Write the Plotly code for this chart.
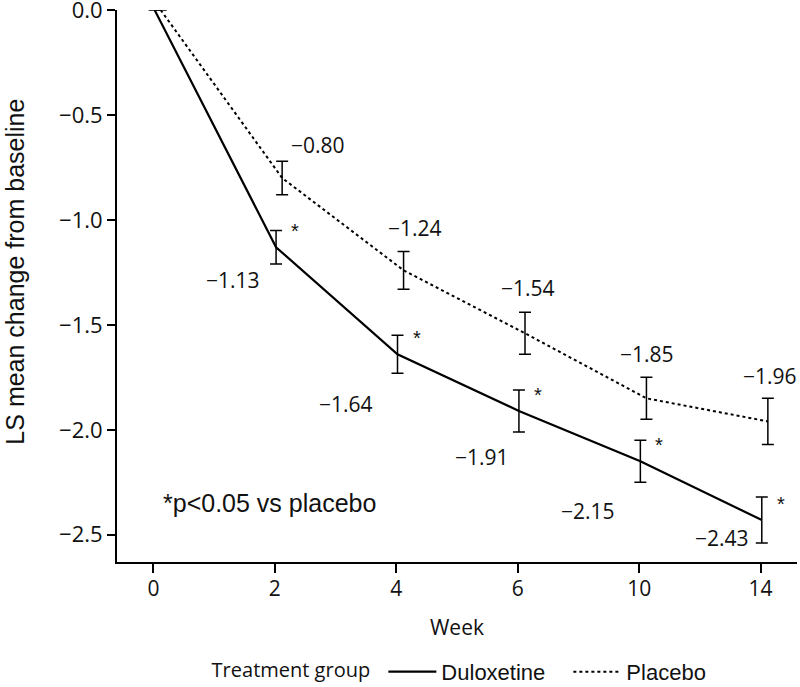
import plotly.graph_objects as go

weeks = ["0", "2", "4", "6", "10", "14"]
dulox_mean = [0.0, -1.13, -1.64, -1.91, -2.15, -2.43]
dulox_err = [0.0, 0.08, 0.09, 0.10, 0.10, 0.11]
placebo_mean = [0.0, -0.80, -1.24, -1.54, -1.85, -1.96]
placebo_err = [0.0, 0.08, 0.09, 0.10, 0.10, 0.11]
significant = [False, True, True, True, True, True]

idx = list(range(len(weeks)))
dulox_x = [i + 0.01 for i in idx]
placebo_x = [i + 0.06 for i in idx]

fig = go.Figure()
fig.add_trace(go.Scatter(
    x=dulox_x, y=dulox_mean, mode="lines", name="Duloxetine",
    line=dict(color="black", width=2.2),
    error_y=dict(type="data", array=dulox_err, visible=True, color="black", thickness=1.5, width=6),
    cliponaxis=False,
))
fig.add_trace(go.Scatter(
    x=placebo_x, y=placebo_mean, mode="lines", name="Placebo",
    line=dict(color="black", width=2, dash="dot"),
    error_y=dict(type="data", array=placebo_err, visible=True, color="black", thickness=1.5, width=6),
    cliponaxis=False,
))

lab_font = dict(family="Open Sans", size=21, color="#111")
# pixel offsets for value labels (style/position only)
plc_shift = [None, (43, 33), (19, 42), (10, 45), (8, 44), (9, 45)]
dul_shift = [None, (-42, -33), (-50, -50), (-36, -46), (-51, -50), (-39, -18)]

for i in idx:
    if i == 0:
        continue
    dx, dy = plc_shift[i]
    fig.add_annotation(x=i, y=placebo_mean[i], text=f"{placebo_mean[i]:.2f}".replace("-", "\u2212"),
                       showarrow=False, xshift=dx, yshift=dy, font=lab_font)
    dx, dy = dul_shift[i]
    fig.add_annotation(x=i, y=dulox_mean[i], text=f"{dulox_mean[i]:.2f}".replace("-", "\u2212"),
                       showarrow=False, xshift=dx, yshift=dy, font=lab_font)
    if significant[i]:
        fig.add_annotation(x=dulox_x[i], y=dulox_mean[i], text="*", showarrow=False,
                           xshift=19, yshift=16, font=dict(family="Liberation Sans", size=20, color="#111"))

fig.add_annotation(x=0.06, y=-2.348, xref="x", yref="y", text="*p<0.05 vs placebo", showarrow=False,
                   xanchor="left", font=dict(family="Liberation Sans", size=25, color="#111"))

# y-axis title
fig.add_annotation(x=-0.15, y=0.526, xref="paper", yref="paper", text="LS mean change from baseline",
                   textangle=-90, showarrow=False, xanchor="center", yanchor="middle",
                   font=dict(family="Liberation Sans", size=25, color="#111"))

fig.update_layout(
    width=800, height=687,
    margin=dict(l=117, r=3, t=10, b=125),
    plot_bgcolor="white", paper_bgcolor="white",
    showlegend=True,
    legend=dict(orientation="h", xref="container", yref="container", x=0.262, xanchor="left",
                y=0.022, yanchor="middle",
                title=dict(text="Treatment group ", font=dict(family="Open Sans", size=20, color="#111")),
                font=dict(family="Liberation Sans", size=22, color="#111"),
                itemwidth=48, entrywidth=122, bgcolor="rgba(0,0,0,0)"),
    xaxis=dict(range=[-0.3, 5.3], tickvals=idx, ticktext=weeks, showgrid=False, zeroline=False,
               showline=True, linecolor="black", linewidth=2, ticks="outside", ticklen=9,
               tickwidth=2, tickcolor="black", automargin=False, ticklabelstandoff=-2,
               tickfont=dict(family="Open Sans", size=21, color="#111"),
               title=dict(text="Week", font=dict(family="Open Sans", size=21, color="#111"), standoff=19)),
    yaxis=dict(range=[-2.63, 0.0005], tickvals=[0, -0.5, -1.0, -1.5, -2.0, -2.5], tickformat=".1f",
               showgrid=False, zeroline=False, showline=True, linecolor="black", linewidth=2,
               ticks="outside", ticklen=8, tickwidth=2, tickcolor="black", automargin=False,
               ticklabeloverflow="allow",
               tickfont=dict(family="Open Sans", size=22, color="#111")),
)

fig.write_html("out.html", config={"displayModeBar": False},
               post_script="document.body.style.margin='0';document.body.style.overflow='hidden';")
